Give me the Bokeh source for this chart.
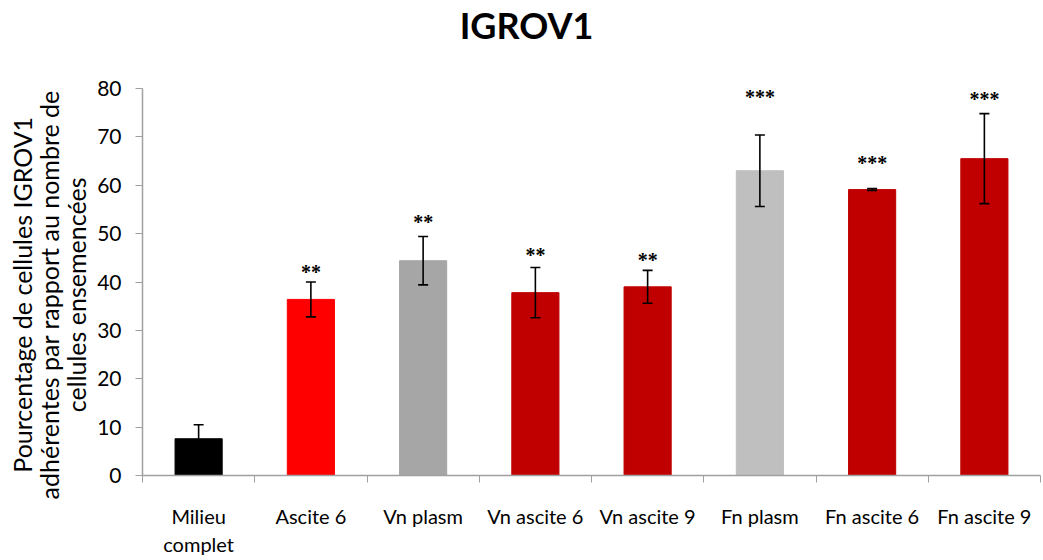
from bokeh.plotting import figure
from bokeh.models import ColumnDataSource, Whisker, FixedTicker, Range1d, TeeHead, LabelSet, Div
from bokeh.layouts import column
from bokeh.embed import file_html
from bokeh.resources import INLINE

categories = ["Milieu\ncomplet", "Ascite 6", "Vn plasm", "Vn ascite 6", "Vn ascite 9",
              "Fn plasm", "Fn ascite 6", "Fn ascite 9"]
means = [7.6, 36.4, 44.4, 37.8, 39.0, 63.0, 59.1, 65.5]
errors = [2.9, 3.6, 5.0, 5.2, 3.4, 7.4, 0.2, 9.3]
colors = ["#000000", "#FF0000", "#A6A6A6", "#C00000", "#C00000", "#BFBFBF", "#C00000", "#C00000"]
stars = ["", "**", "**", "**", "**", "***", "***", "***"]
star_y = [0, 43.2, 53.4, 46.7, 45.5, 79.2, 65.7, 78.9]
ylabel_lines = ["Pourcentage de cellules IGROV1",
                "adhérentes par rapport au nombre de",
                "cellules ensemencées"]

n = len(categories)
xs = [i + 0.5 for i in range(n)]
src = ColumnDataSource(dict(
    x=xs, top=means, color=colors,
    upper=[m + e for m, e in zip(means, errors)],
    lower=[m - e for m, e in zip(means, errors)],
))
star_src = ColumnDataSource(dict(x=xs, y=star_y, t=stars))

FONT = "Lato"
TITLE_H = 50
title_div = Div(text="IGROV1", width=1043, height=TITLE_H,
                styles={"font-family": FONT, "font-size": "36px", "font-weight": "bold",
                        "text-align": "center", "line-height": "40px",
                        "color": "black", "width": "1043px"})

p = figure(width=1043, height=499, output_backend="svg", toolbar_location=None,
           x_range=Range1d(0, n), y_range=Range1d(0, 80),
           min_border_left=142, min_border_right=3, min_border_top=28,
           min_border_bottom=84)
p.outline_line_color = None
p.grid.grid_line_color = None
p.background_fill_color = "white"
p.border_fill_color = "white"

p.vbar(x="x", top="top", width=0.42, bottom=0, color="color", source=src)
w = Whisker(base="x", upper="upper", lower="lower", source=src,
            line_color="black", line_width=1.6, level="overlay",
            upper_head=TeeHead(size=10, line_color="black", line_width=1.6),
            lower_head=TeeHead(size=10, line_color="black", line_width=1.6))
p.add_layout(w)

star_labels = LabelSet(x="x", y="y", text="t", source=star_src, text_align="center",
                       text_baseline="middle", y_offset=-5, text_font="DejaVu Sans",
                       text_font_style="bold", text_font_size="20px", text_color="black")
p.add_layout(star_labels)

# x axis: labels at centers, ticks at boundaries
xa = p.xaxis[0]
xa.ticker = FixedTicker(ticks=xs, minor_ticks=list(range(n + 1)))
xa.major_label_overrides = {x: c for x, c in zip(xs, categories)}
xa.major_tick_line_color = None
xa.major_tick_in = 0
xa.major_tick_out = 0
xa.minor_tick_line_color = "#A0A0A0"
xa.minor_tick_in = 0
xa.minor_tick_out = 7
xa.axis_line_color = "#A0A0A0"
xa.axis_line_width = 1.5
xa.major_label_text_font = FONT
xa.major_label_text_font_size = "20px"
xa.major_label_text_color = "black"
xa.major_label_standoff = 21

ya = p.yaxis[0]
ya.ticker = FixedTicker(ticks=list(range(0, 81, 10)))
ya.axis_line_color = "#A0A0A0"
ya.axis_line_width = 1.5
ya.major_tick_line_color = "#A0A0A0"
ya.major_tick_in = 0
ya.major_tick_out = 7
ya.minor_tick_line_color = None
ya.major_label_text_font = FONT
ya.major_label_text_font_size = "21px"
ya.major_label_text_color = "black"
ya.major_label_standoff = 14
# a few trailing non-breaking spaces nudge the rotated label down, as in the reference
pad = "\u00a0" * 4
ya.axis_label = "\n".join(line + pad for line in ylabel_lines)
ya.axis_label_text_font = FONT
ya.axis_label_text_font_size = "25px"
ya.axis_label_text_line_height = 0.9
ya.axis_label_text_font_style = "normal"
ya.axis_label_text_color = "black"
ya.axis_label_standoff = 3
ya.axis_label_text_align = "center"

layout = column(title_div, p, spacing=0)
open("out.html", "w").write(file_html(layout, INLINE))
